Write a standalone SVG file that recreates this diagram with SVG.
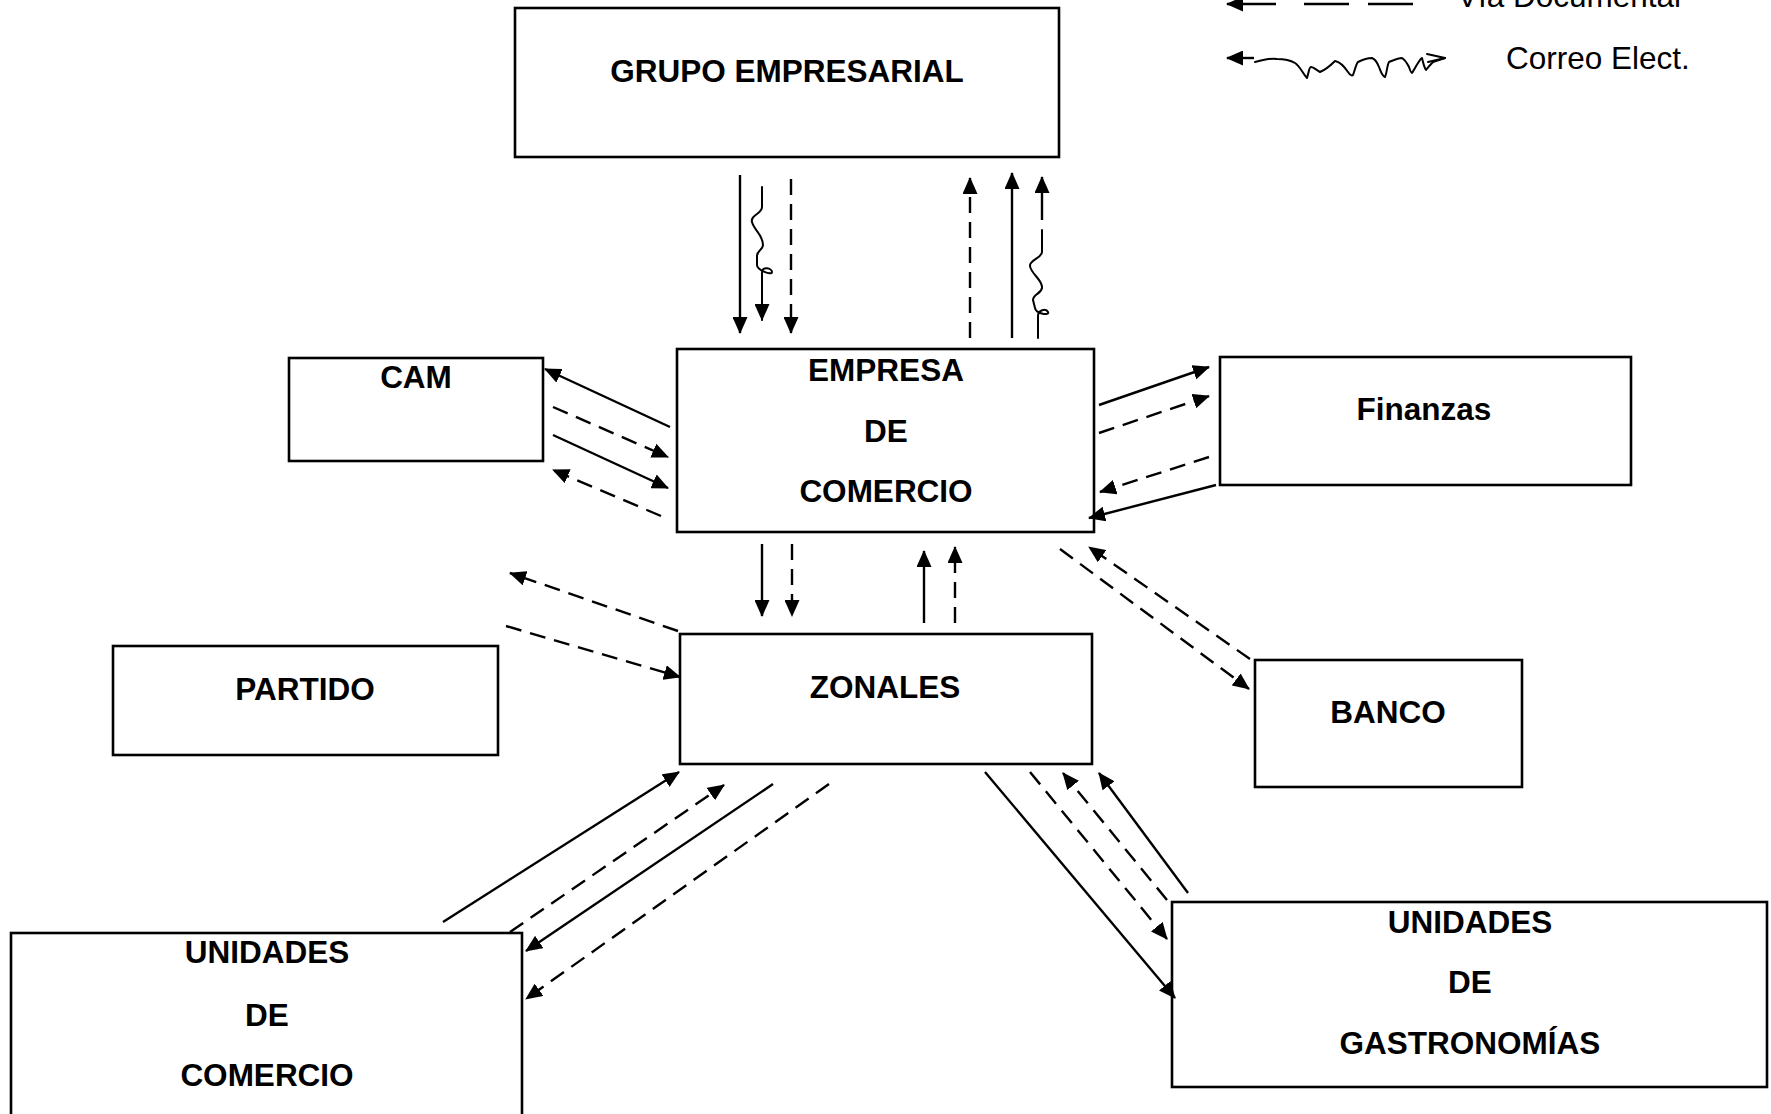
<svg xmlns="http://www.w3.org/2000/svg" width="1771" height="1114" viewBox="0 0 1771 1114">
<style>
.box{fill:#fff;stroke:#000;stroke-width:2.6}
.t{font-family:"Liberation Sans",Arial,sans-serif;font-weight:bold;font-size:31.5px;text-anchor:middle;fill:#000}
.r{font-family:"Liberation Sans",Arial,sans-serif;font-size:31.5px;fill:#000}
.s{fill:none;stroke:#000;stroke-width:2.4}
.d{fill:none;stroke:#000;stroke-width:2.4;stroke-dasharray:16 9}
.w{fill:none;stroke:#000;stroke-width:2;stroke-linejoin:round;stroke-linecap:round}
.a{marker-end:url(#ah)}
</style>
<defs>
<marker id="ah" markerUnits="userSpaceOnUse" markerWidth="17" markerHeight="15" viewBox="0 0 17 15" refX="16" refY="7.5" orient="auto">
<path d="M0,0 L17,7.5 L0,15 z" fill="#000"/>
</marker>
</defs>
<rect width="1771" height="1114" fill="#fff"/>

<g id="legend">
<line class="s a" x1="1276" y1="4" x2="1227" y2="4"/>
<line class="s" x1="1304" y1="4" x2="1349" y2="4"/>
<line class="s" x1="1368" y1="4" x2="1413" y2="4"/>
<text class="r" x="1457" y="7">Vía Documental</text>
<line class="s a" x1="1254" y1="58" x2="1227" y2="58"/>
<path class="w" d="M1255,62 C1262,60 1270,58 1277,59 C1285,59 1290,60 1295,63 C1300,66 1303,74 1307,78 C1309,72 1309,67 1311,67 C1314,67 1316,70 1320,72 C1325,70 1330,66 1335,61 C1340,62 1344,66 1348,72 C1350,75 1352,76 1353,75 C1355,70 1356,64 1358,62 C1364,59 1368,58 1372,58 C1375,59 1377,62 1379,67 C1381,72 1382,76 1385,77 C1387,73 1387,65 1389,62 C1394,60 1398,58 1402,58 C1405,60 1407,63 1409,67 C1410,70 1411,73 1412,73 C1414,70 1416,66 1418,63 C1420,60 1421,58 1422,58 C1423,62 1424,67 1426,70 C1429,66 1431,64 1433,62 L1445,58"/>
<path class="w" d="M1427,54 L1445,58 L1428,62"/>
<text class="r" x="1506" y="69">Correo Elect.</text>
</g>

<g id="grupo">
<rect class="box" x="515" y="8" width="544" height="149"/>
<text class="t" x="787" y="82">GRUPO EMPRESARIAL</text>
</g>

<g id="empresa">
<rect class="box" x="677" y="349" width="417" height="183"/>
<text class="t" x="886" y="381">EMPRESA</text>
<text class="t" x="886" y="442">DE</text>
<text class="t" x="886" y="502">COMERCIO</text>
</g>

<g id="cam">
<rect class="box" x="289" y="358" width="254" height="103"/>
<text class="t" x="416" y="388">CAM</text>
</g>

<g id="finanzas">
<rect class="box" x="1220" y="357" width="411" height="128"/>
<text class="t" x="1424" y="420">Finanzas</text>
</g>

<g id="zonales">
<rect class="box" x="680" y="634" width="412" height="130"/>
<text class="t" x="885" y="698">ZONALES</text>
</g>

<g id="partido">
<rect class="box" x="113" y="646" width="385" height="109"/>
<text class="t" x="305" y="700">PARTIDO</text>
</g>

<g id="banco">
<rect class="box" x="1255" y="660" width="267" height="127"/>
<text class="t" x="1388" y="723">BANCO</text>
</g>

<g id="unidades-comercio">
<rect class="box" x="11" y="933" width="511" height="190"/>
<text class="t" x="267" y="963">UNIDADES</text>
<text class="t" x="267" y="1026">DE</text>
<text class="t" x="267" y="1086">COMERCIO</text>
</g>

<g id="unidades-gastronomias">
<rect class="box" x="1172" y="902" width="595" height="185"/>
<text class="t" x="1470" y="933">UNIDADES</text>
<text class="t" x="1470" y="993">DE</text>
<text class="t" x="1470" y="1054">GASTRONOMÍAS</text>
</g>

<g id="connectors">
<!-- grupo -> empresa -->
<line class="s a" x1="740" y1="175" x2="740" y2="333"/>
<path class="w a" d="M762,187 L762,207 C762,214 750,215 752,222 C754,230 763,235 763,245 C763,250 757,250 757,256 L757,265 C757,270 772,276 772,272 C772,268 762,266 762,272 L762,320"/>
<line class="d a" x1="791" y1="179" x2="791" y2="333"/>
<!-- empresa -> grupo -->
<line class="d a" x1="970" y1="338" x2="970" y2="178"/>
<line class="s a" x1="1012" y1="338" x2="1012" y2="173"/>
<line class="s a" x1="1042" y1="220" x2="1042" y2="177"/>
<path class="w" d="M1042,230 L1042,252 C1042,258 1029,260 1030,266 C1031,274 1043,280 1042,288 C1041,294 1033,294 1033,300 L1035,308 C1036,314 1050,316 1048,312 C1046,308 1038,310 1038,316 L1038,338"/>
<!-- cam -->
<line class="s a" x1="670" y1="427" x2="545" y2="369"/>
<line class="d a" x1="553" y1="407" x2="668" y2="457"/>
<line class="s a" x1="553" y1="435" x2="668" y2="488"/>
<line class="d a" x1="661" y1="516" x2="553" y2="470"/>
<!-- finanzas -->
<line class="s a" x1="1099" y1="405" x2="1209" y2="367"/>
<line class="d a" x1="1099" y1="433" x2="1209" y2="396"/>
<line class="d a" x1="1209" y1="457" x2="1100" y2="492"/>
<line class="s a" x1="1216" y1="485" x2="1089" y2="518"/>
<!-- empresa <-> zonales -->
<line class="s a" x1="762" y1="544" x2="762" y2="616"/>
<line class="d a" x1="792" y1="544" x2="792" y2="616"/>
<line class="s a" x1="924" y1="623" x2="924" y2="551"/>
<line class="d a" x1="955" y1="623" x2="955" y2="547"/>
<!-- partido -->
<line class="d a" x1="678" y1="631" x2="510" y2="573"/>
<line class="d a" x1="506" y1="626" x2="680" y2="677"/>
<!-- banco -->
<line class="d a" x1="1060" y1="549" x2="1249" y2="689"/>
<line class="d a" x1="1250" y1="659" x2="1089" y2="547"/>
<!-- unidades comercio -->
<line class="s a" x1="443" y1="922" x2="679" y2="772"/>
<line class="d a" x1="510" y1="932" x2="724" y2="785"/>
<line class="s a" x1="773" y1="784" x2="526" y2="951"/>
<line class="d a" x1="829" y1="784" x2="526" y2="999"/>
<!-- unidades gastronomias -->
<line class="s a" x1="985" y1="772" x2="1175" y2="998"/>
<line class="d a" x1="1030" y1="772" x2="1167" y2="939"/>
<line class="d a" x1="1167" y1="900" x2="1063" y2="773"/>
<line class="s a" x1="1188" y1="893" x2="1099" y2="773"/>
</g>
</svg>
